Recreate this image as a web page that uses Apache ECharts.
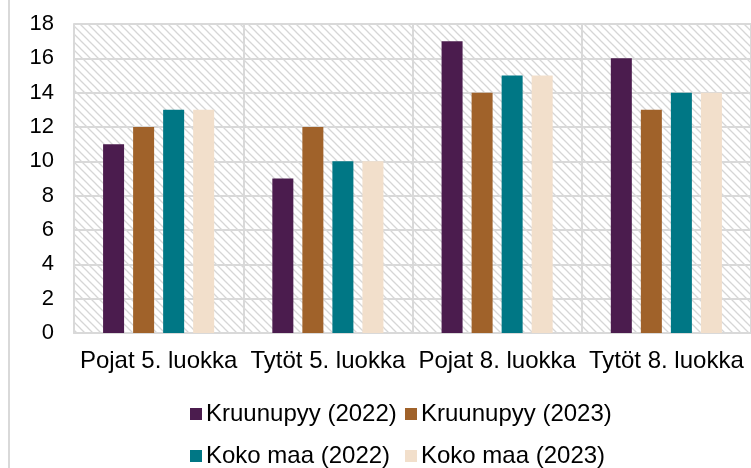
<!DOCTYPE html>
<html>
<head>
<meta charset="utf-8">
<script src="https://cdn.jsdelivr.net/npm/echarts@6/dist/echarts.min.js"></script>
<style>
	html, body { margin: 0; padding: 0; background: #fff; }
	#chart { width: 751px; height: 468px; }
</style>
</head>
<body>
<div id="chart"></div>
<script>
// data
var categories = ['Pojat 5. luokka', 'Tytöt 5. luokka', 'Pojat 8. luokka', 'Tytöt 8. luokka'];
var seriesNames = ['Kruunupyy (2022)', 'Kruunupyy (2023)', 'Koko maa (2022)', 'Koko maa (2023)'];
var kruunupyy2022 = [11, 9, 17, 16];
var kruunupyy2023 = [12, 12, 14, 13];
var kokoMaa2022 = [13, 10, 15, 14];
var kokoMaa2023 = [13, 10, 15, 14];
var colors = ['#4b1c4e', '#a0622a', '#007785', '#f2dfcb'];

/*
 * diagonal hatch for plot background
 */
function makeHatch() {
	var c = document.createElement('canvas');
	c.width = 8; c.height = 8;
	var ctx = c.getContext('2d');
	ctx.fillStyle = '#ffffff';
	ctx.fillRect(0, 0, 8, 8);
	ctx.strokeStyle = '#d6d6d6';
	ctx.lineWidth = 1.3;
	ctx.beginPath();
	ctx.moveTo(-2, -2); ctx.lineTo(10, 10);
	ctx.moveTo(-2, 6); ctx.lineTo(2, 10);
	ctx.moveTo(6, -2); ctx.lineTo(10, 2);
	ctx.stroke();
	return c;
}

var myChart = echarts.init(document.getElementById('chart'));
var allValues = [kruunupyy2022, kruunupyy2023, kokoMaa2022, kokoMaa2023];
var series = [];
for (var i = 0; i < seriesNames.length; i++) {
	series.push({
		name: seriesNames[i],
		type: 'bar',
		barWidth: 21,
		barGap: '43%',
		itemStyle: { color: colors[i] },
		data: allValues[i]
	});
}
var legendPos = [[190, 402], [405, 402], [190, 444], [405, 444]];
var legends = [];
for (var j = 0; j < seriesNames.length; j++) {
	legends.push({
		left: legendPos[j][0],
		top: legendPos[j][1],
		padding: 0,
		data: [seriesNames[j]],
		icon: 'rect',
		itemWidth: 12,
		itemHeight: 12,
		itemGap: 6,
		selectedMode: false,
		textStyle: { fontFamily: 'Liberation Sans', fontSize: 24, color: '#000', padding: [0, 0, 0, -1] }
	});
}
var option = {
	animation: false,
	backgroundColor: '#fff',
	textStyle: { fontFamily: 'Liberation Sans' },
	grid: {
		left: 74, top: 24, bottom: 135, right: -6,
		show: true,
		borderWidth: 0,
		backgroundColor: { image: makeHatch(), repeat: 'repeat' }
	},
	legend: legends,
	xAxis: {
		type: 'category',
		data: categories,
		axisLine: { lineStyle: { color: '#d9d9d9', width: 2 } },
		axisTick: { show: false },
		splitLine: { show: true, interval: 0, lineStyle: { color: '#d9d9d9', width: 2 } },
		axisLabel: { color: '#000', fontSize: 24, margin: 16, interval: 0, hideOverlap: false }
	},
	yAxis: {
		type: 'value',
		min: 0, max: 18, interval: 2,
		axisLine: { show: true, lineStyle: { color: '#d9d9d9', width: 2 } },
		axisTick: { show: false },
		splitLine: { lineStyle: { color: '#d9d9d9', width: 2 } },
		axisLabel: { color: '#000', fontSize: 22, margin: 20 }
	},
	graphic: [{
		type: 'line',
		shape: { x1: 9, y1: 0, x2: 9, y2: 468 },
		style: { stroke: '#d9d9d9', lineWidth: 2 }
	}],
	series: series
};
myChart.setOption(option);
</script>
</body>
</html>
